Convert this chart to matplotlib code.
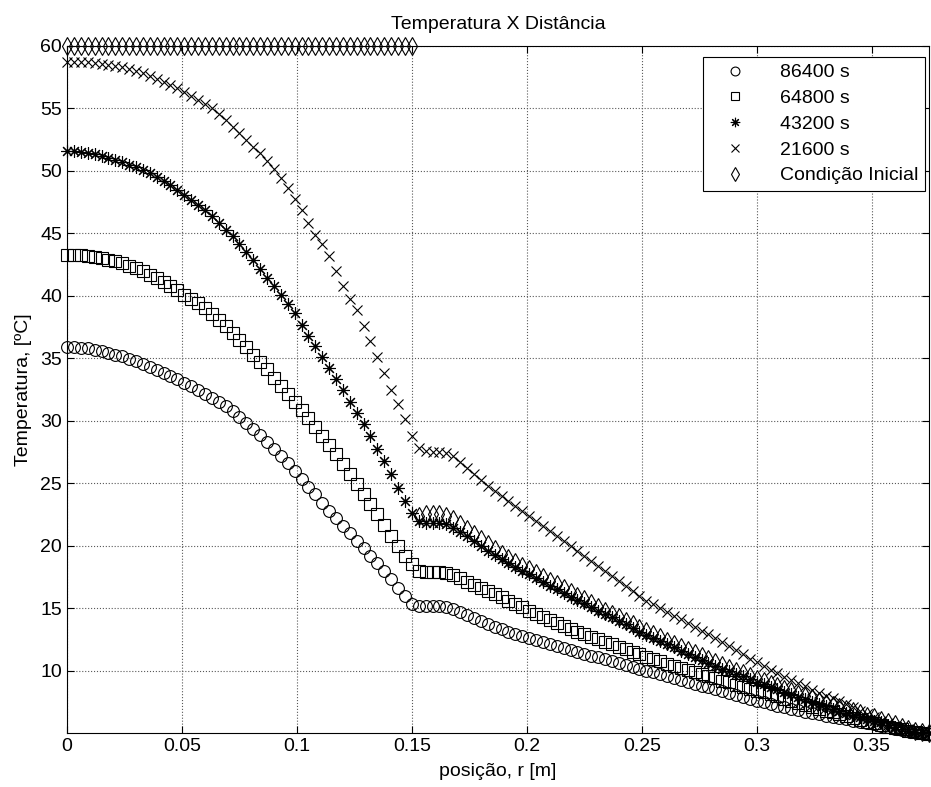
import numpy as np
import matplotlib
matplotlib.use("Agg")
import matplotlib.pyplot as plt

plt.rcParams['font.family'] = ['Liberation Sans', 'DejaVu Sans']

# radial grid: 126 nodes, dr = 0.003 m
dr = 0.003
n_nodes = 126
r = np.round(np.arange(n_nodes) * dr, 3)

t_86400 = [35.9, 35.89, 35.86, 35.8, 35.7, 35.6, 35.45, 35.3, 35.15, 34.95,
           34.75, 34.55, 34.3, 34.05, 33.8, 33.55, 33.3, 33.05, 32.75, 32.45,
           32.15, 31.8, 31.5, 31.15, 30.75, 30.3, 29.85, 29.35, 28.85, 28.3,
           27.75, 27.2, 26.6, 26.0, 25.35, 24.7, 24.1, 23.4, 22.8, 22.2,
           21.6, 21.0, 20.4, 19.8, 19.2, 18.6, 17.95, 17.3, 16.6, 15.95,
           15.35, 15.2, 15.15, 15.15, 15.15, 15.1, 14.95, 14.7, 14.45, 14.2,
           13.95, 13.7, 13.5, 13.3, 13.1, 12.9, 12.75, 12.6, 12.45, 12.3,
           12.1, 11.95, 11.8, 11.65, 11.5, 11.35, 11.2, 11.05, 10.9, 10.75,
           10.6, 10.45, 10.3, 10.15, 10.0, 9.85, 9.7, 9.55, 9.4, 9.25,
           9.1, 8.95, 8.8, 8.65, 8.5, 8.35, 8.2, 8.05, 7.9, 7.75,
           7.6, 7.5, 7.35, 7.2, 7.1, 6.95, 6.85, 6.7, 6.6, 6.5,
           6.4, 6.3, 6.2, 6.1, 6.0, 5.9, 5.8, 5.7, 5.6, 5.45,
           5.35, 5.25, 5.15, 5.05, 5.0, 4.95]

t_64800 = [43.3, 43.28, 43.25, 43.2, 43.12, 43.03, 42.9, 42.75, 42.6, 42.42,
           42.2, 41.95, 41.7, 41.42, 41.12, 40.8, 40.45, 40.1, 39.75, 39.4,
           39.0, 38.55, 38.1, 37.6, 37.05, 36.5, 35.9, 35.3, 34.7, 34.1,
           33.45, 32.8, 32.15, 31.5, 30.85, 30.2, 29.5, 28.8, 28.05, 27.3,
           26.55, 25.75, 24.95, 24.15, 23.35, 22.5, 21.65, 20.8, 19.95, 19.15,
           18.5, 18.0, 17.9, 17.9, 17.88, 17.82, 17.65, 17.4, 17.1, 16.85,
           16.6, 16.35, 16.1, 15.85, 15.55, 15.3, 15.05, 14.8, 14.55, 14.3,
           14.05, 13.8, 13.55, 13.35, 13.1, 12.9, 12.7, 12.5, 12.3, 12.1,
           11.9, 11.7, 11.5, 11.3, 11.1, 10.9, 10.75, 10.55, 10.4, 10.2,
           10.05, 9.9, 9.7, 9.55, 9.4, 9.2, 9.05, 8.85, 8.7, 8.55,
           8.4, 8.25, 8.1, 7.95, 7.75, 7.6, 7.4, 7.25, 7.1, 6.95,
           6.8, 6.65, 6.5, 6.35, 6.2, 6.05, 5.9, 5.8, 5.65, 5.5,
           5.4, 5.3, 5.2, 5.1, 5.0, 4.95]

t_43200 = [51.6, 51.58, 51.52, 51.43, 51.33, 51.2, 51.05, 50.88, 50.7, 50.5,
           50.3, 50.05, 49.8, 49.5, 49.2, 48.85, 48.5, 48.1, 47.7, 47.3,
           46.85, 46.35, 45.85, 45.3, 44.75, 44.15, 43.5, 42.85, 42.15, 41.45,
           40.75, 40.1, 39.35, 38.6, 37.7, 36.8, 35.95, 35.1, 34.25, 33.35,
           32.45, 31.5, 30.6, 29.7, 28.75, 27.75, 26.75, 25.7, 24.65, 23.6,
           22.6, 22.0, 21.85, 21.8, 21.8, 21.7, 21.45, 21.1, 20.75, 20.35,
           19.95, 19.6, 19.25, 18.9, 18.6, 18.3, 18.0, 17.7, 17.4, 17.1,
           16.8, 16.5, 16.2, 15.9, 15.65, 15.4, 15.1, 14.8, 14.5, 14.25,
           13.95, 13.7, 13.4, 13.1, 12.85, 12.6, 12.35, 12.1, 11.85, 11.6,
           11.35, 11.1, 10.85, 10.6, 10.4, 10.15, 9.95, 9.75, 9.55, 9.3,
           9.1, 8.9, 8.7, 8.5, 8.3, 8.1, 7.9, 7.7, 7.5, 7.35,
           7.15, 6.95, 6.8, 6.6, 6.45, 6.3, 6.15, 6.0, 5.85, 5.65,
           5.45, 5.3, 5.2, 5.1, 5.05, 5.0]

t_21600 = [58.75, 58.74, 58.72, 58.68, 58.62, 58.56, 58.48, 58.4, 58.3, 58.15,
           58.0, 57.85, 57.6, 57.35, 57.1, 56.85, 56.6, 56.3, 56.0, 55.7,
           55.35, 55.0, 54.55, 54.05, 53.55, 53.05, 52.5, 51.95, 51.4, 50.8,
           50.15, 49.45, 48.6, 47.75, 46.85, 45.85, 44.9, 44.15, 43.15, 42.0,
           40.8, 39.75, 38.85, 37.6, 36.4, 35.1, 33.8, 32.45, 31.3, 30.1,
           28.75, 27.8, 27.55, 27.5, 27.5, 27.4, 27.15, 26.7, 26.2, 25.7,
           25.25, 24.8, 24.35, 23.95, 23.55, 23.15, 22.75, 22.35, 21.95, 21.55,
           21.15, 20.75, 20.35, 19.95, 19.55, 19.15, 18.75, 18.35, 17.95, 17.55,
           17.15, 16.75, 16.35, 15.95, 15.6, 15.3, 15.0, 14.7, 14.4, 14.1,
           13.8, 13.5, 13.2, 12.9, 12.6, 12.3, 11.95, 11.65, 11.3, 10.95,
           10.65, 10.35, 10.05, 9.8, 9.5, 9.25, 9.0, 8.75, 8.45, 8.2,
           8.0, 7.8, 7.55, 7.35, 7.05, 6.8, 6.5, 6.25, 6.0, 5.8,
           5.6, 5.45, 5.3, 5.15, 5.05, 5.0]

# initial condition: 60 degC up to r = 0.15 m, then the outer profile
t_inicial = [60.0] * 51 + [
           22.4, 22.55, 22.55, 22.5, 22.35, 22.1, 21.7, 21.3, 20.9,
           20.5, 20.1, 19.7, 19.35, 19.0, 18.7, 18.4, 18.1, 17.8, 17.5,
           17.2, 16.9, 16.6, 16.3, 16.0, 15.7, 15.4, 15.1, 14.8, 14.5,
           14.25, 13.95, 13.7, 13.4, 13.15, 12.9, 12.65, 12.4, 12.15, 11.9,
           11.65, 11.4, 11.15, 10.9, 10.65, 10.45, 10.2, 10.0, 9.8, 9.55,
           9.35, 9.15, 8.95, 8.75, 8.55, 8.35, 8.15, 7.95, 7.8, 7.6,
           7.4, 7.25, 7.05, 6.9, 6.75, 6.6, 6.4, 6.25, 6.05, 5.9,
           5.7, 5.5, 5.35, 5.2, 5.1, 5.0]

series = [(t_86400, 'o', '86400 s', 8.5),
          (t_64800, 's', '64800 s', 8.0),
          (t_43200, (8, 2, 0), '43200 s', 9.0),
          (t_21600, 'x', '21600 s', 7.5),
          (t_inicial, 'd', 'Condição Inicial', 9.0)]

fig = plt.figure(figsize=(9.31, 7.87), dpi=100)
ax = fig.add_axes([0.072, 0.0686, 0.926, 0.873])

for temps, mk, lab, ms in series:
    ax.plot(r, temps, marker=mk, linestyle='none', color='k', markersize=ms,
            markeredgewidth=0.8, markerfacecolor='none', label=lab,
            clip_on=False)

ax.set_xlim(0, 0.375)
ax.set_ylim(5, 60)
ax.set_xticks(np.arange(0, 0.351, 0.05))
ax.set_xticklabels(['0', '0.05', '0.1', '0.15', '0.2', '0.25', '0.3', '0.35'])
ax.set_yticks(np.arange(10, 61, 5))
ax.tick_params(direction='in', top=True, right=True, labelsize=14, length=5)
ax.grid(True, linestyle=':', color='0.35', linewidth=0.8)
for sp in ax.spines.values():
    sp.set_linewidth(0.8)

ax.set_title('Temperatura X Distância', fontsize=14, pad=12)
ax.set_xlabel('posição, r [m]', fontsize=14, labelpad=6)
ax.set_ylabel('Temperatura, [ºC]', fontsize=14, labelpad=6)

leg = ax.legend(loc='upper right', bbox_to_anchor=(0.995, 0.984), fontsize=14,
                markerscale=0.75, fancybox=False, edgecolor='k', framealpha=1,
                borderaxespad=0, handlelength=2.6, handletextpad=1.0,
                labelspacing=0.42, borderpad=0.35)
leg.get_frame().set_linewidth(0.8)

fig.savefig('out.png', dpi=100)
